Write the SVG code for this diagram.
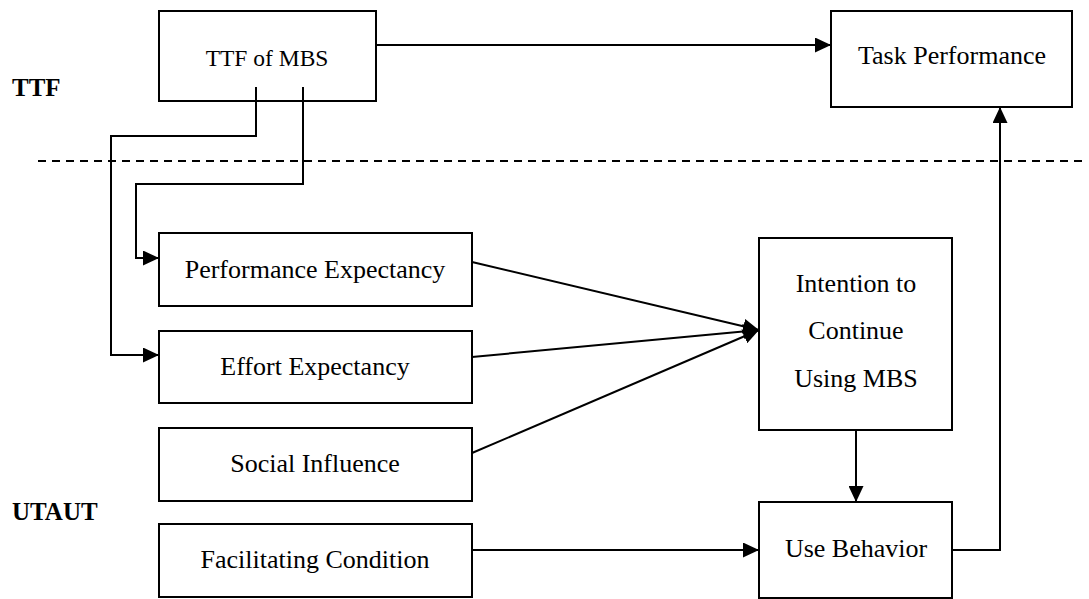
<svg xmlns="http://www.w3.org/2000/svg" width="1089" height="599" viewBox="0 0 1089 599">
<style>
.box{fill:none;stroke:#000;stroke-width:2}
.t{font-family:'Liberation Serif','Times New Roman',Tinos,'DejaVu Serif',serif;font-size:26px;text-anchor:middle;fill:#000}
.lbl{font-family:'Liberation Serif','Times New Roman',Tinos,'DejaVu Serif',serif;font-size:25px;font-weight:bold;fill:#000}
.c{fill:none;stroke:#000;stroke-width:2}
</style>
<defs>
<marker id="ah" markerWidth="16" markerHeight="15" refX="16" refY="7.5" orient="auto" markerUnits="userSpaceOnUse">
<path d="M0,0 L16,7.5 L0,15 Z" fill="#000"/>
</marker>
</defs>
<rect width="1089" height="599" fill="#fff"/>
<text class="lbl" x="12" y="96" font-family="Liberation Serif, serif">TTF</text>
<text class="lbl" x="12" y="520" font-family="Liberation Serif, serif">UTAUT</text>
<line x1="38" y1="161" x2="1084" y2="161" stroke="#000" stroke-width="2" stroke-dasharray="8,6"/>
<g id="connectors">
<path class="c" d="M376,45 H831" marker-end="url(#ah)"/>
<path class="c" d="M256,87 V136 H111 V355 H159" marker-end="url(#ah)"/>
<path class="c" d="M303,87 V184 H136 V258 H159" marker-end="url(#ah)"/>
<path class="c" d="M472,262 L759,330" marker-end="url(#ah)"/>
<path class="c" d="M472,357 L759,330" marker-end="url(#ah)"/>
<path class="c" d="M472,453 L759,330" marker-end="url(#ah)"/>
<path class="c" d="M856,430 V502" marker-end="url(#ah)"/>
<path class="c" d="M472,550 H759" marker-end="url(#ah)"/>
<path class="c" d="M952,550 H1000 V107" marker-end="url(#ah)"/>
</g>
<g id="ttf-mbs"><rect class="box" x="159" y="11" width="217" height="90"/><text class="t" x="267" y="66" style="font-size:23.5px">TTF of MBS</text></g>
<g id="task-performance"><rect class="box" x="831" y="11" width="241" height="96"/><text class="t" x="952" y="64">Task Performance</text></g>
<g id="performance-expectancy"><rect class="box" x="159" y="233" width="313" height="73"/><text class="t" x="315" y="278">Performance Expectancy</text></g>
<g id="effort-expectancy"><rect class="box" x="159" y="331" width="313" height="72"/><text class="t" x="315" y="375">Effort Expectancy</text></g>
<g id="social-influence"><rect class="box" x="159" y="428" width="313" height="73"/><text class="t" x="315" y="472">Social Influence</text></g>
<g id="facilitating-condition"><rect class="box" x="159" y="524" width="313" height="73"/><text class="t" x="315" y="568">Facilitating Condition</text></g>
<g id="intention"><rect class="box" x="759" y="238" width="193" height="192"/><text class="t" x="856" y="292">Intention to</text><text class="t" x="856" y="339">Continue</text><text class="t" x="856" y="387">Using MBS</text></g>
<g id="use-behavior"><rect class="box" x="759" y="502" width="193" height="96"/><text class="t" x="856" y="557">Use Behavior</text></g>
</svg>
